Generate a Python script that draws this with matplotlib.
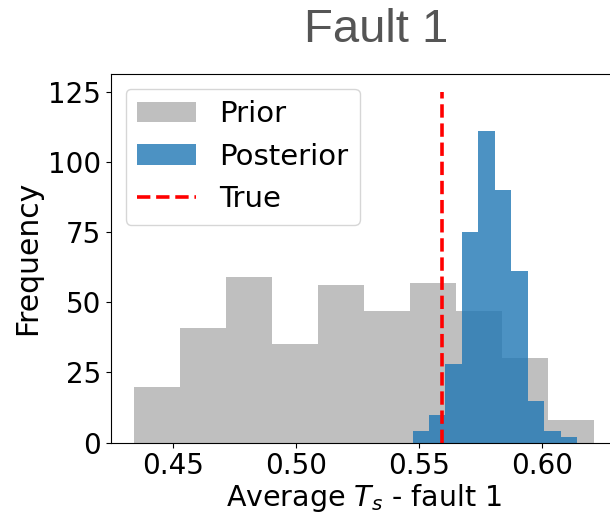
import numpy as np
import matplotlib
matplotlib.use("Agg")
import matplotlib.pyplot as plt

# Prior histogram: 10 bins between the sample min and max
prior_range = (0.4342, 0.6211)
prior_counts = [20, 41, 59, 35, 56, 47, 57, 47, 30, 8]

# Posterior histogram: 10 bins
posterior_range = (0.5474, 0.6142)
posterior_counts = [4, 10, 28, 75, 111, 90, 61, 15, 4, 2]

true_value = 0.5595
true_top = 125

fig = plt.figure(figsize=(6.10, 5.15), dpi=100)
W, H = 610, 515
ax = fig.add_axes([111 / W, (H - 442.7) / H, (617 - 111) / W, (442.7 - 74) / H])

def draw_hist(ax, rng, counts, **kw):
    edges = np.linspace(rng[0], rng[1], len(counts) + 1)
    centers = 0.5 * (edges[:-1] + edges[1:])
    ax.hist(centers, bins=edges, weights=counts, **kw)

draw_hist(ax, prior_range, prior_counts, color='gray', alpha=0.5, label='Prior')
draw_hist(ax, posterior_range, posterior_counts, color='tab:blue', alpha=0.8, label='Posterior')
ax.vlines(true_value, 0, true_top, colors='red', linestyles='--', linewidth=2.6, label='True')

ax.set_xticks([0.45, 0.50, 0.55, 0.60])
ax.set_yticks([0, 25, 50, 75, 100, 125])
ax.tick_params(labelsize=20)
ax.set_xlabel('Average $T_s$ - fault 1', fontsize=20.5, labelpad=1)
ax.set_ylabel('Frequency', fontsize=21.5)
ax.legend(loc='upper left', fontsize=21)

fig.text(376 / W, (H - 42) / H, 'Fault 1', ha='center', va='baseline',
         fontsize=34, color='#555555', family='Liberation Sans')

fig.savefig('out.png', dpi=100)
